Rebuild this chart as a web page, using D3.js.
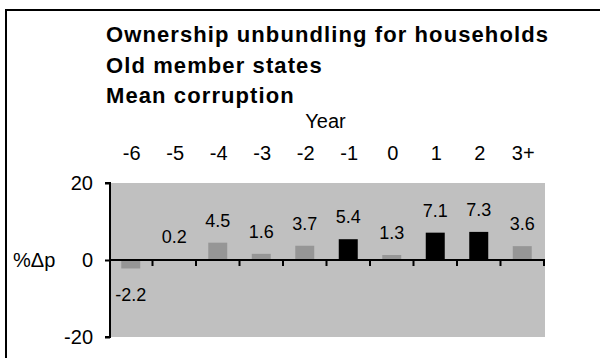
<!DOCTYPE html>
<html>
<head>
<meta charset="utf-8">
<script src="https://cdn.jsdelivr.net/npm/d3@7"></script>
<style>
  html, body { margin: 0; padding: 0; background: #fff; }
  svg { display: block; font-family: "Liberation Sans", Arial, sans-serif; }
</style>
</head>
<body>
<svg id="chart" width="600" height="358"></svg>
<script>
// Percentage change in price by year relative to unbundling
const years = ["-6", "-5", "-4", "-3", "-2", "-1", "0", "1", "2", "3+"];
const changes = [-2.2, 0.2, 4.5, 1.6, 3.7, 5.4, 1.3, 7.1, 7.3, 3.6];
// Years whose estimate is highlighted in black
const highlighted = ["-1", "1", "2"];
const yTicks = [-20, 0, 20];
const titleLines = ["Ownership unbundling for households", "Old member states", "Mean corruption"];

// plain hyphen-minus for negative numbers
const hyphen = (f) => (v) => f(v).replace("\u2212", "-");
const fmtValue = hyphen(d3.format(".1f"));
const fmtTick = hyphen(d3.format("d"));

const svg = d3.select("#chart");

// outer frame (runs off the right and bottom edges)
svg.append("rect")
  .attr("x", 6).attr("y", 10)
  .attr("width", 700).attr("height", 400)
  .attr("fill", "none").attr("stroke", "#000").attr("stroke-width", 2);

const plot = { left: 110, right: 545, top: 183, bottom: 337 };

const x = d3.scaleBand().domain(years).range([plot.left, plot.right]);
const y = d3.scaleLinear().domain([-20, 20]).range([plot.bottom, plot.top]);

// plot background
svg.append("rect")
  .attr("x", plot.left).attr("y", plot.top)
  .attr("width", plot.right - plot.left).attr("height", plot.bottom - plot.top)
  .attr("fill", "#c0c0c0");

// bars
const barW = 19;
svg.append("g").selectAll("rect").data(years).join("rect")
  .attr("x", (d) => x(d) + x.bandwidth() / 2 - barW / 2 - 1)
  .attr("y", (d, i) => Math.min(y(changes[i]), y(0)))
  .attr("width", barW)
  .attr("height", (d, i) => Math.abs(y(changes[i]) - y(0)))
  .attr("fill", (d) => highlighted.includes(d) ? "#000" : "#969696");

// value labels
svg.append("g").selectAll("text").data(years).join("text")
  .attr("x", (d) => x(d) + x.bandwidth() / 2 - 1)
  .attr("y", (d, i) => changes[i] >= 0 ? y(changes[i]) - 16 : y(changes[i]) + 33)
  .attr("text-anchor", "middle")
  .attr("font-size", 18)
  .attr("fill", "#000")
  .text((d, i) => fmtValue(changes[i]));

// y axis
const yAxis = d3.axisLeft(y).tickValues(yTicks).tickSize(5).tickPadding(12).tickFormat(fmtTick);
const gy = svg.append("g").attr("transform", `translate(${plot.left},0)`).call(yAxis);
gy.select(".domain").attr("stroke", "#000").attr("stroke-width", 2)
  .attr("d", `M-5,${plot.top}H0V${plot.bottom}H-5`);
gy.selectAll(".tick line").attr("stroke", "#000").attr("stroke-width", 2);
gy.selectAll(".tick text").attr("font-size", 20).attr("fill", "#000")
  .attr("font-family", "Liberation Sans, Arial, sans-serif");

// zero line with category ticks at band boundaries
const boundaries = years.map((d) => x(d) + x.bandwidth());
const gx = svg.append("g");
gx.append("line")
  .attr("x1", plot.left).attr("x2", plot.right)
  .attr("y1", y(0)).attr("y2", y(0))
  .attr("stroke", "#000").attr("stroke-width", 2);
gx.selectAll("line.tk").data(boundaries).join("line")
  .attr("class", "tk")
  .attr("x1", (d) => d - 1).attr("x2", (d) => d - 1)
  .attr("y1", y(0)).attr("y2", y(0) + 6)
  .attr("stroke", "#000").attr("stroke-width", 2);

// category labels along the top
svg.append("g").selectAll("text").data(years).join("text")
  .attr("x", (d) => x(d) + x.bandwidth() / 2)
  .attr("y", 160)
  .attr("text-anchor", "middle")
  .attr("font-size", 20)
  .text((d) => d);

svg.append("text")
  .attr("x", (plot.left + plot.right) / 2 - 2).attr("y", 128)
  .attr("text-anchor", "middle").attr("font-size", 20)
  .text("Year");

svg.append("text")
  .attr("x", 13).attr("y", y(0) + 7)
  .attr("font-size", 20)
  .text("%\u0394p");

// title block
svg.append("g").selectAll("text").data(titleLines).join("text")
  .attr("x", 106)
  .attr("y", (d, i) => 42 + i * 30.5)
  .attr("font-size", 22).attr("font-weight", "bold")
  .attr("letter-spacing", 1.1)
  .text((d) => d);
</script>
</body>
</html>
